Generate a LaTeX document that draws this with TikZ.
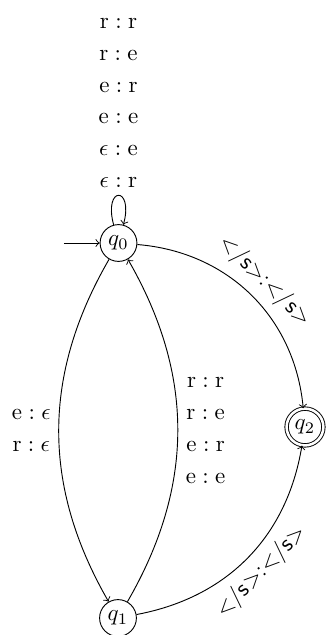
\documentclass[tikz,border=0pt]{standalone}
\usepackage{fontspec}
\usetikzlibrary{automata}
\newcommand{\lab}[2]{$\mathrm{#1}:\mathrm{#2}$}
\newcommand{\eps}{\epsilon}
\begin{document}
\begin{tikzpicture}[x=0.4348pt,y=-0.4348pt,
  every state/.style={draw,circle,minimum size=16pt,inner sep=1pt},
  accepting/.style={double,double distance=1.1pt},
  lbl/.style={align=center},
  eos/.style={font=\sffamily,sloped},
  every loop/.style={min distance=6.2mm}]
\useasboundingbox (0,0) rectangle (326,635);
\node[state,initial,initial text={},initial distance=15.6pt] (q0) at (118.5,243) {$q_0$};
\node[state] (q1) at (118,618) {$q_1$};
\node[state,accepting] (q2) at (305,427) {$q_2$};
\path[->]
  (q0) edge[loop above] node[above,lbl] {\lab{r}{r}\\[1.8pt]\lab{r}{e}\\[1.8pt]\lab{e}{r}\\[1.8pt]\lab{e}{e}\\[1.8pt]$\eps:\mathrm{e}$\\[1.8pt]$\eps:\mathrm{r}$} ()
  (q0) edge[bend left=40] node[above,eos] {</s>:</s>} (q2)
  (q1) edge[bend right=35] node[below,eos] {</s>:</s>} (q2)
  (q0) edge[bend right=30] node[left,lbl] {$\mathrm{e}:\eps$\\[1.8pt]$\mathrm{r}:\eps$} (q1)
  (q1) edge[bend right=30] node[right,lbl] {\lab{r}{r}\\[1.8pt]\lab{r}{e}\\[1.8pt]\lab{e}{r}\\[1.8pt]\lab{e}{e}} (q0);
\end{tikzpicture}
\end{document}
